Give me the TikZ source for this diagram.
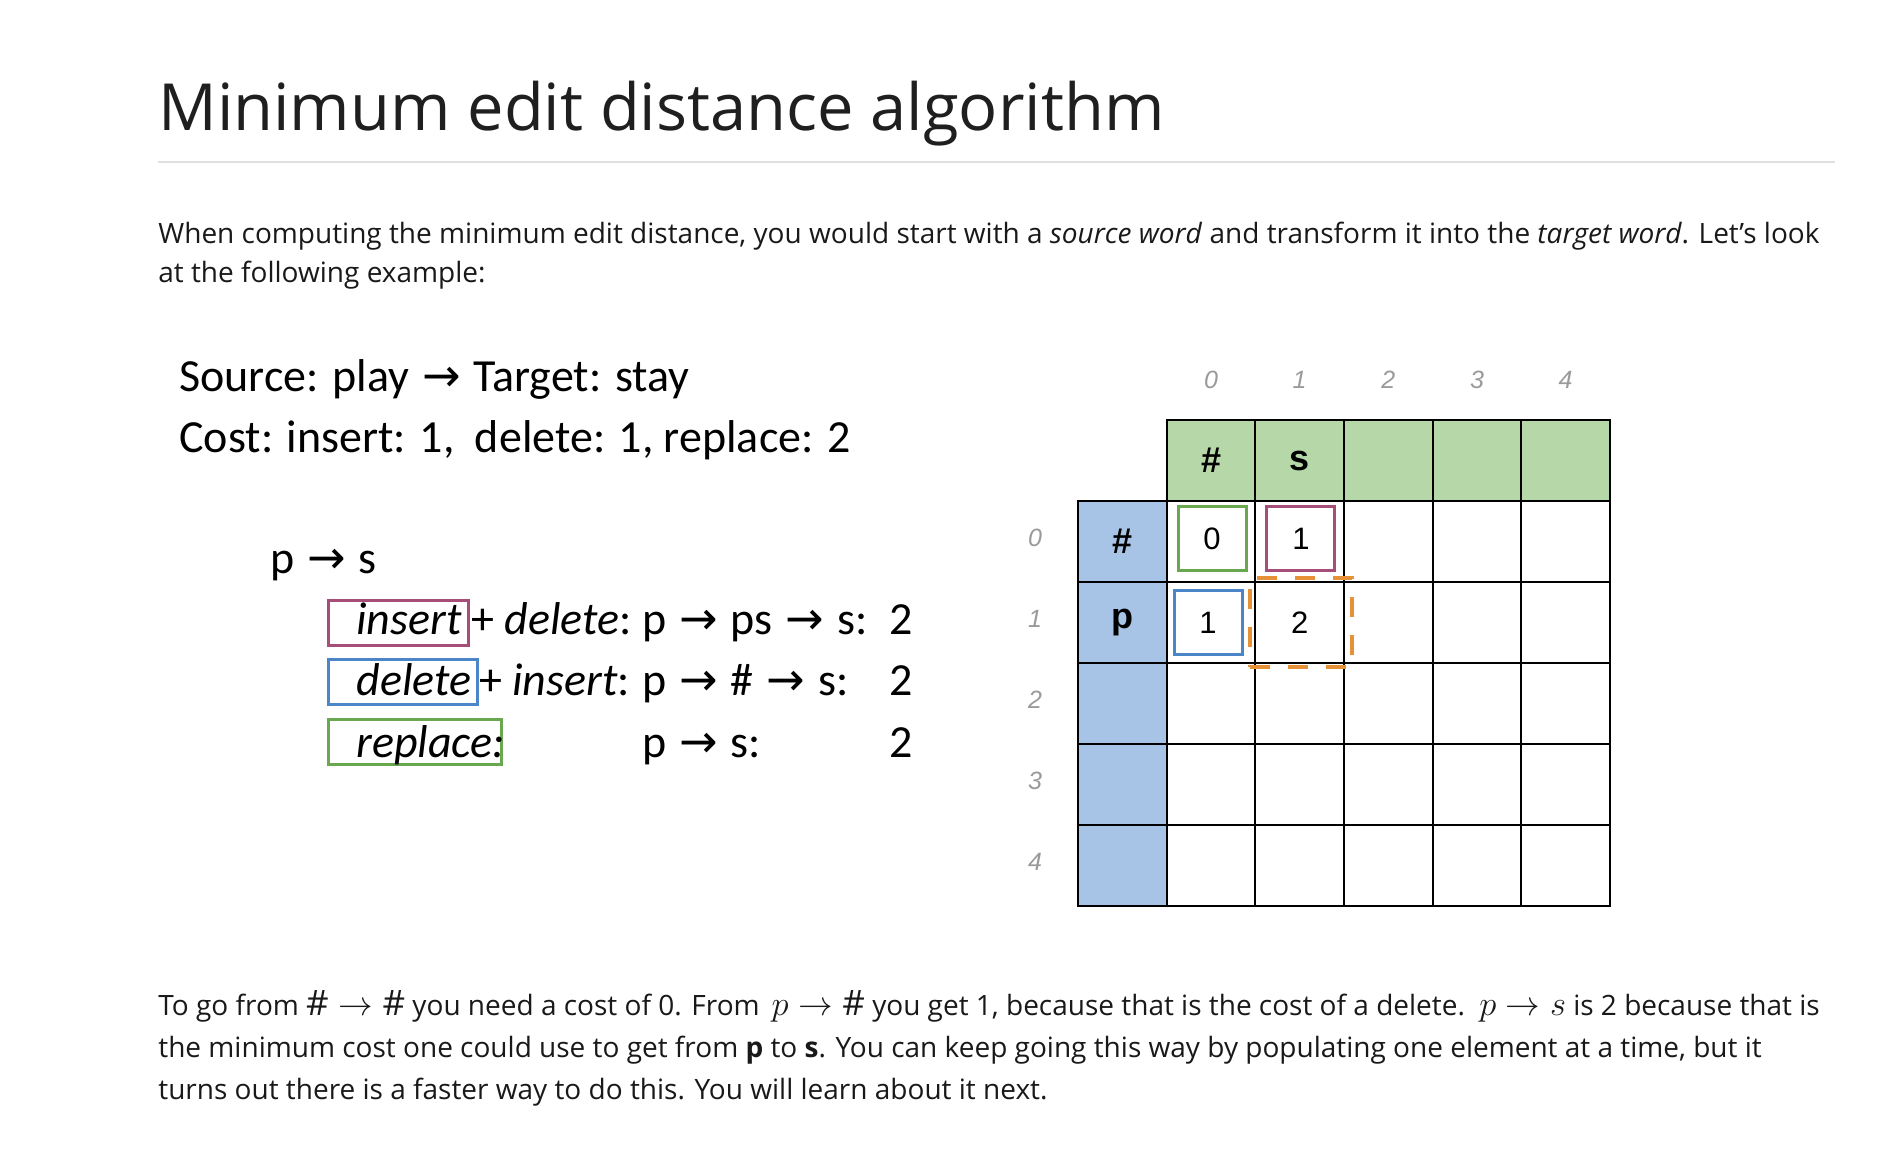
\documentclass[tikz,border=0pt]{standalone}
\usepackage{fontspec}
\setmainfont{Open Sans}
\newfontfamily\slidefont{Carlito}
\newfontfamily\tablefont{Liberation Sans}
\newfontfamily\symfont{DejaVu Sans}
\usetikzlibrary{calc}

\definecolor{hdrgreen}{HTML}{B6D7A8}
\definecolor{colblue}{HTML}{A7C4E6}
\definecolor{tagmag}{HTML}{A64D79}
\definecolor{tagblue}{HTML}{4A86C8}
\definecolor{taggreen}{HTML}{6AA84F}
\definecolor{pickorange}{HTML}{E69138}
\definecolor{rulegray}{HTML}{E0E0E0}
\definecolor{idxgray}{HTML}{9A9A9A}

\newcommand{\rarr}{\hspace{0.28em}{\symfont\char"2192}\hspace{0.28em}}
\newcommand{\mth}[1]{{\fontsize{17.5}{18}\selectfont$#1$}}
\newcommand{\slidetext}{\slidefont\fontsize{23}{28}\selectfont\spaceskip 0.22em\relax}

\begin{document}
\begin{tikzpicture}[
        x=0.5pt, y=-0.5pt,
        txt/.style={anchor=base west, inner sep=0pt, text=black!90},
        body/.style={txt, font=\fontsize{14}{18}\selectfont},
        slide/.style={txt, text=black, font=\slidetext},
        cell/.style={draw=black, line width=1pt, minimum width=44.33pt, minimum height=40.5pt,
            inner sep=0pt, font=\tablefont\bfseries\fontsize{18}{20}\selectfont},
        val/.style={inner sep=0pt, minimum width=34pt, minimum height=32pt,
            font=\tablefont\fontsize{15.5}{18}\selectfont},
        num/.style={val, draw=#1, line width=1.5pt},
        idx/.style={inner sep=0pt, text=idxgray, font=\tablefont\itshape\fontsize{12.5}{15}\selectfont},
        tag/.style={draw=#1, line width=1.5pt, anchor=north west, minimum height=22.5pt, inner sep=0pt},
        pick/.style={draw=pickorange, line width=2pt, dash pattern=on 10pt off 9pt,
            minimum width=51pt, minimum height=44.5pt, inner sep=0pt}
    ]
    \fill[white] (0,0) rectangle (1902,1176);
    \useasboundingbox (0,0) rectangle (1902,1176);

    % heading
    \node[txt, font=\fontsize{32.5}{40}\selectfont, text=black!88] (title) at (158,131) {Minimum edit distance algorithm};
    \draw[rulegray, line width=1pt] (158,162) -- (1835,162);
    \node[body] (p1) at (158,244) {When computing the minimum edit distance, you would start with a \textit{source word} and transform it into the \textit{target word}. Let's look};
    \node[body] (p2) at (158,283) {at the following example:};

    % left panel
    \node[slide] (src) at (179,392) {Source: play\rarr Target: stay};
    \node[slide] (cost) at (179,453) {Cost: insert: 1,\hspace{0.44em}delete: 1, replace: 2};
    \node[slide] (ps) at (270,574) {p\rarr s};

    \node[tag=tagmag, minimum width=70pt] (insbox) at (327,599) {};
    \node[slide] (ins) at (356,634) {\itshape insert};
    \node[slide] (insop) at (471,634) {+ \textit{delete}:};
    \node[slide] (inspath) at (642,634) {p\rarr ps\rarr s:};
    \node[slide] (inscost) at (889,634) {2};

    \node[tag=tagblue, minimum width=74.5pt] (delbox) at (327,658) {};
    \node[slide] (del) at (356,695) {\itshape delete};
    \node[slide] (delop) at (479,695) {+ \textit{insert}:};
    \node[slide] (delpath) at (642,695) {p\rarr\#\rarr s:};
    \node[slide] (delcost) at (889,695) {2};

    \node[tag=taggreen, minimum width=86.5pt] (repbox) at (327,718) {};
    \node[slide] (rep) at (356,757) {\itshape replace:};
    \node[slide] (reppath) at (642,757) {p\rarr s:};
    \node[slide] (repcost) at (889,757) {2};

    % table
    \foreach \c in {0,...,4} {
        \node[cell, fill=hdrgreen] (h\c) at ({1211+88.67*\c}, 460.5) {};
        \node[idx] (k\c) at ({1211+88.67*\c}, 380) {\c};
    }
    \foreach \r in {0,...,4} {
        \node[cell, fill=colblue] (l\r) at (1122.33, {541.5+81*\r}) {};
        \node[idx] (j\r) at (1035, {538+81*\r}) {\r};
        \foreach \c in {0,...,4}
            \node[cell] (c\r\c) at ({1211+88.67*\c}, {541.5+81*\r}) {};
    }
    \node[font=\tablefont\bfseries\fontsize{18}{20}\selectfont, inner sep=0pt] (hh) at (h0) {\#};
    \node[font=\tablefont\bfseries\fontsize{18}{20}\selectfont, inner sep=0pt] (hs) at (h1) {s};
    \node[font=\tablefont\bfseries\fontsize{18}{20}\selectfont, inner sep=0pt] (lh) at (l0) {\#};
    \node[font=\tablefont\bfseries\fontsize{18}{20}\selectfont, inner sep=0pt] (lp) at (l1) {p};

    \node[num=taggreen] (v00) at ($(c00)+(1,-2.5)$) {0};
    \node[num=tagmag] (v01) at ($(c01)+(1.3,-2.5)$) {1};
    \node[num=tagblue] (v10) at ($(c10)+(-3,0)$) {1};
    \node[val] (v11) at (c11) {2};
    \node[pick] (sel) at ($(c11)+(1.3,0)$) {};

    % closing text
    \node[body] (q1) at (158,1015) {To go from \mth{\#\rightarrow\#} you need a cost of 0. From \,\mth{p\rightarrow\#} you get 1, because that is the cost of a delete. \,\mth{p\rightarrow s} is 2 because that is};
    \node[body] (q2) at (158,1057) {the minimum cost one could use to get from \textbf{p} to \textbf{s}. You can keep going this way by populating one element at a time, but it};
    \node[body] (q3) at (158,1099) {turns out there is a faster way to do this. You will learn about it next.};
\end{tikzpicture}
\end{document}
